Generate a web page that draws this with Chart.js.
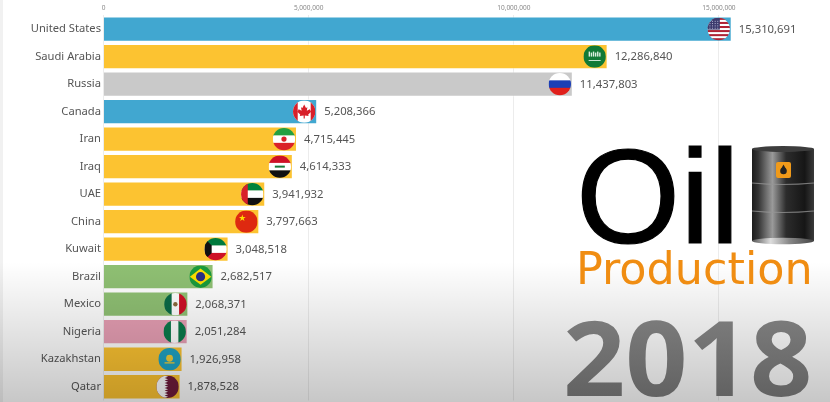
<!DOCTYPE html>
<html>
<head>
<meta charset="utf-8">
<style>
html,body{margin:0;padding:0;background:#fff;width:830px;height:402px;overflow:hidden}
#wrap{position:relative;width:830px;height:402px}
canvas{display:block;filter:blur(0.55px)}
</style>
<script src="https://cdn.jsdelivr.net/npm/chart.js@4"></script>
</head>
<body>
<div id="wrap"><canvas id="c" width="830" height="402"></canvas></div>
<script>
const categories = ["United States","Saudi Arabia","Russia","Canada","Iran","Iraq","UAE","China","Kuwait","Brazil","Mexico","Nigeria","Kazakhstan","Qatar"];
const production2018 = [15310691,12286840,11437803,5208366,4715445,4614333,3941932,3797663,3048518,2682517,2068371,2051284,1926958,1878528];
const barColors = ["#41a7d0","#fcc331","#c9c9c9","#41a7d0","#fcc331","#fcc331","#fcc331","#fcc331","#fcc331","#8fc073","#8fc073","#e79fb4","#fcc331","#fcc331"];
const flagCodes = ["us","sa","ru","ca","ir","iq","ae","cn","kw","br","mx","ng","kz","qa"];
const axisTicks = [0,5000000,10000000,15000000];
const titleWord = "Oil";
const subtitleWord = "Production";
const yearLabel = "2018";
const axisMax = 17706000;

function hBands(c,r,cols){const h=2*r/cols.length;cols.forEach((k,i)=>{c.fillStyle=k;c.fillRect(-r,-r+i*h,2*r,h+.5);});}
function vBands(c,r,cols){const w=2*r/cols.length;cols.forEach((k,i)=>{c.fillStyle=k;c.fillRect(-r+i*w,-r,w+.5,2*r);});}
function star(c,x,y,ro,ri,n){c.beginPath();for(let i=0;i<n*2;i++){const a=-Math.PI/2+i*Math.PI/n,q=i%2?ri:ro;c.lineTo(x+q*Math.cos(a),y+q*Math.sin(a));}c.closePath();c.fill();}
const flags = {
  us(c,r){hBands(c,r,["#b22234","#fff","#b22234","#fff","#b22234","#fff","#b22234","#fff","#b22234","#fff","#b22234"]);
    c.fillStyle="#3c3b6e";c.fillRect(-r,-r,r*1.1,r*1.05);c.fillStyle="#cfd0ea";
    for(let a=0;a<4;a++)for(let b=0;b<4;b++){c.fillRect(-r+2+b*2.6,-r+3+a*2.3,.9,.9);}},
  sa(c,r){c.fillStyle="#117a36";c.fillRect(-r,-r,2*r,2*r);c.fillStyle="#dcefe0";
    for(let i=0;i<6;i++){c.fillRect(-6+i*2.1,-5+(i%2),1.4,5-(i%2));}c.fillRect(-6,3.5,12,.9);},
  ru(c,r){hBands(c,r,["#fff","#1c3fb5","#e0201b"]);},
  ca(c,r){c.fillStyle="#fff";c.fillRect(-r,-r,2*r,2*r);c.fillStyle="#d8202a";c.fillRect(-r,-r,r*.42,2*r);c.fillRect(r*.58,-r,r*.42,2*r);
    c.beginPath();[[0,-7],[1.8,-3.6],[3.2,-4.4],[2.6,-.8],[5.6,-2.4],[6.4,-.6],[7,.2],[4,3],[4.4,4.4],[.6,4],[.6,7],[-.6,7],[-.6,4],[-4.4,4.4],[-4,3],[-7,.2],[-6.4,-.6],[-5.6,-2.4],[-2.6,-.8],[-3.2,-4.4],[-1.8,-3.6]].forEach(p=>c.lineTo(p[0],p[1]));c.closePath();c.fill();},
  ir(c,r){hBands(c,r,["#239f40","#fff","#da2128"]);c.fillStyle="#da2128";c.beginPath();c.arc(0,0,2.6,0,7);c.fill();},
  iq(c,r){hBands(c,r,["#ce1126","#fff","#111"]);c.fillStyle="#1a7a3a";c.fillRect(-5,-1,10,2);},
  ae(c,r){hBands(c,r,["#00843d","#fff","#111"]);c.fillStyle="#d8202a";c.fillRect(-r,-r,r*.6,2*r);},
  cn(c,r){c.fillStyle="#de2910";c.fillRect(-r,-r,2*r,2*r);c.fillStyle="#ffde00";star(c,-4,-3.5,3.6,1.4,5);},
  kw(c,r){hBands(c,r,["#007a3d","#fff","#ce1126"]);c.fillStyle="#111";c.beginPath();c.moveTo(-r,-r);c.lineTo(-r*.35,-r/3);c.lineTo(-r*.35,r/3);c.lineTo(-r,r);c.closePath();c.fill();},
  br(c,r){c.fillStyle="#1a9b3c";c.fillRect(-r,-r,2*r,2*r);c.fillStyle="#fedf00";c.beginPath();c.moveTo(-r+.5,0);c.lineTo(0,-r*.72);c.lineTo(r-.5,0);c.lineTo(0,r*.72);c.closePath();c.fill();c.fillStyle="#2a2f84";c.beginPath();c.arc(0,0,4.6,0,7);c.fill();},
  mx(c,r){vBands(c,r,["#0b6b47","#fff","#ce1126"]);c.fillStyle="#8a6a3c";c.beginPath();c.arc(0,0,2.2,0,7);c.fill();},
  ng(c,r){vBands(c,r,["#0b7a4a","#fff","#0b7a4a"]);},
  kz(c,r){c.fillStyle="#1fa3c4";c.fillRect(-r,-r,2*r,2*r);c.fillStyle="#f2cf3a";c.beginPath();c.arc(0,-1,3.4,0,7);c.fill();c.fillRect(-5,3,10,1.3);},
  qa(c,r){c.fillStyle="#6f1b3b";c.fillRect(-r,-r,2*r,2*r);c.fillStyle="#fff";c.beginPath();c.moveTo(-r,-r);c.lineTo(-3,-r);
    for(let i=0;i<9;i++){const y=-r+(i+.5)*2*r/9,y2=-r+(i+1)*2*r/9;c.lineTo(.5,y);c.lineTo(-3,y2);}
    c.lineTo(-r,r);c.closePath();c.fill();}
};

function drawBarrel(c){
  const x=752,w=62,top=149,bot=241;
  const g=c.createLinearGradient(x,0,x+w,0);
  g.addColorStop(0,"#1c1c1c");g.addColorStop(.1,"#333");g.addColorStop(.33,"#9a9a9a");g.addColorStop(.55,"#2c2c2c");g.addColorStop(.85,"#161616");g.addColorStop(1,"#3a3a3a");
  c.fillStyle=g;c.fillRect(x,top,w,bot-top);
  c.fillStyle="#3d3d3d";c.beginPath();c.ellipse(x+w/2,top,w/2,3,0,0,7);c.fill();
  c.strokeStyle="rgba(150,150,150,.75)";c.lineWidth=1.2;
  [183,211].forEach(y=>{c.beginPath();c.moveTo(x,y);c.quadraticCurveTo(x+w/2,y+3,x+w,y);c.stroke();});
  const g2=c.createLinearGradient(x,0,x+w,0);
  g2.addColorStop(0,"#555");g2.addColorStop(.3,"#ddd");g2.addColorStop(.6,"#888");g2.addColorStop(1,"#444");
  c.fillStyle=g2;c.beginPath();c.ellipse(x+w/2,bot,w/2,3.2,0,0,7);c.fill();
  c.fillStyle="#f09a1a";c.beginPath();c.roundRect(776,162,15,16,2);c.fill();
  c.fillStyle="#222";c.beginPath();c.arc(783.5,171,3.3,0,7);c.fill();c.beginPath();c.moveTo(783.5,164.5);c.lineTo(786,169);c.lineTo(781,169);c.closePath();c.fill();
}

const overlayPlugin = {
  id:"overlay",
  beforeDraw(chart){const c=chart.ctx;c.save();c.fillStyle="#fff";c.fillRect(0,0,830,402);c.fillStyle="#f1f1f1";c.fillRect(0,0,3,402);c.restore();},
  afterDraw(chart){
    const c=chart.ctx, bars=chart.getDatasetMeta(0).data;
    c.save();
    bars.forEach((b,i)=>{
      const r=11.2,cx=b.x-13,cy=b.y;
      c.save();c.translate(cx,cy);c.beginPath();c.arc(0,0,r,0,7);c.clip();flags[flagCodes[i]](c,r);c.restore();
      c.fillStyle="#555";c.font='11.3px "Noto Sans"';c.textAlign="left";c.textBaseline="middle";
      c.fillText(production2018[i].toLocaleString("en-US"),b.x+7,cy+.5);
    });
    const f=c.createLinearGradient(0,262,0,402);
    f.addColorStop(0,"rgba(0,0,0,0)");f.addColorStop(1,"rgba(0,0,0,.22)");
    c.fillStyle=f;c.fillRect(0,262,830,140);
    c.textBaseline="alphabetic";c.textAlign="left";
    c.fillStyle="#000";c.strokeStyle="#000";c.lineWidth=1.2;c.font='134px "Liberation Sans"';c.fillText(titleWord,576,243);c.strokeText(titleWord,576,243);
    drawBarrel(c);
    c.fillStyle="#f08d12";c.font='44.5px "DejaVu Sans"';c.fillText(subtitleWord,576,284);
    const t=c.createLinearGradient(0,0,0,80);t.addColorStop(0,"#7b7b7b");t.addColorStop(1,"#626262");
    c.save();c.translate(563,396);c.scale(1,.96);c.translate(0,-80);
    c.fillStyle=t;c.font='700 109px "Open Sans"';c.fillText(yearLabel,0,80);
    c.restore();
    c.restore();
  }
};

new Chart(document.getElementById("c"),{
  type:"bar",
  data:{labels:categories,datasets:[{data:production2018,backgroundColor:barColors,borderColor:"rgba(255,255,255,.45)",borderWidth:1,barPercentage:.92,categoryPercentage:1}]},
  plugins:[overlayPlugin],
  options:{
    indexAxis:"y",responsive:false,animation:false,
    layout:{padding:{left:0,right:0,top:0,bottom:1.5}},
    plugins:{legend:{display:false},tooltip:{enabled:false}},
    scales:{
      x:{position:"top",min:0,max:axisMax,
        afterBuildTicks(s){s.ticks=axisTicks.map(v=>({value:v}));},
        afterFit(s){s.height=15.3;s.paddingLeft=0;s.paddingRight=0;},
        border:{display:false},
        grid:{color:"#ececec",lineWidth:1,drawTicks:false},
        ticks:{padding:3,maxRotation:0,autoSkip:false,color:"#888",font:{family:"Noto Sans",size:6.5},callback:v=>v.toLocaleString("en-US")}},
      y:{afterFit(s){s.width=103.5;s.paddingTop=0;s.paddingBottom=0;},
        border:{display:false},
        grid:{display:false,drawTicks:false},
        ticks:{padding:2.5,autoSkip:false,color:"#555",font:{family:"Noto Sans",size:11.2}}}
    }
  }
});
</script>
</body>
</html>
